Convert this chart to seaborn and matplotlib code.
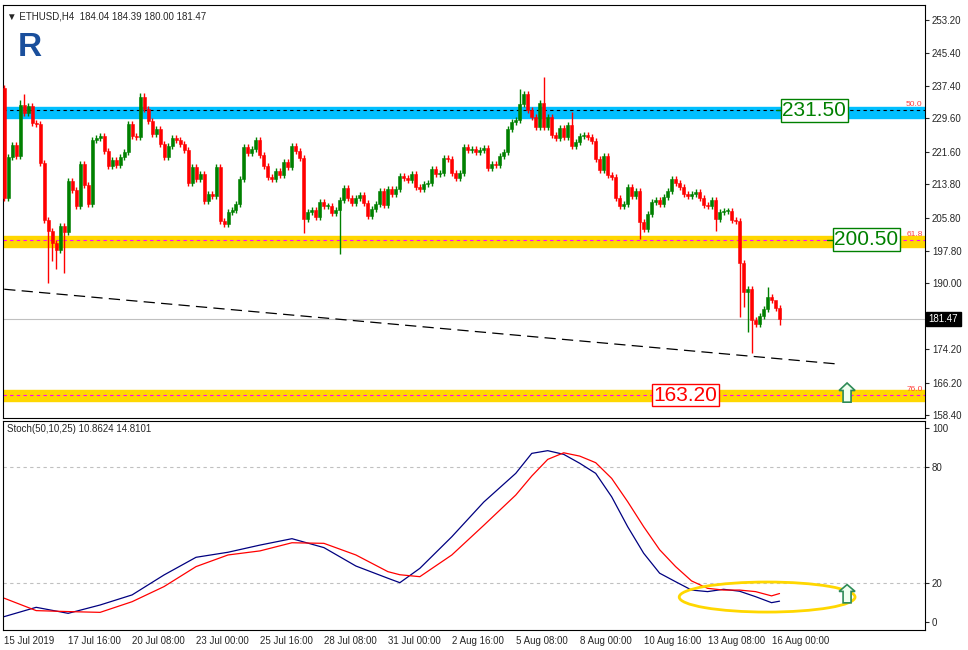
import numpy as np
import pandas as pd
import matplotlib
matplotlib.use("Agg")
import matplotlib.pyplot as plt
import seaborn as sns
from matplotlib.patches import Ellipse, Polygon
import matplotlib.transforms as mtransforms

# ---------------------------
# data (H4 candles, ETHUSD)
# ---------------------------
first_open = 236.9
closes = [
    210.5, 220.3, 223.2, 220.6, 232.8, 230.9, 232.6, 228.5, 228.2, 218.9,
    205.2, 202.6, 199.7, 198.0, 203.8, 202.3, 214.6, 212.4, 208.6, 218.6,
    213.6, 209.0, 224.4, 224.9, 225.4, 221.8, 218.2, 219.6, 218.4, 220.3,
    221.5, 228.2, 225.4, 225.1, 234.7, 231.8, 229.0, 225.8, 227.0, 223.4,
    220.3, 223.0, 224.9, 224.4, 223.4, 222.0, 214.1, 218.0, 215.0, 216.2,
    209.8, 211.4, 211.0, 218.0, 205.0, 204.2, 207.1, 207.6, 209.0, 215.0,
    222.7, 221.3,
    222.2, 224.4, 220.8, 218.2, 215.5, 215.0, 217.0, 216.0,
    219.1, 217.9, 223.0, 221.8, 220.1, 205.4, 207.1, 207.6, 205.9, 209.5,
    208.6, 208.6, 206.9, 207.6, 210.0, 212.9, 210.5, 209.3, 210.5, 211.2,
    209.3, 206.2, 207.8, 209.0, 212.2, 208.8, 212.6, 211.4, 212.6, 215.8,
    215.3, 214.8, 216.2, 213.1, 212.6, 213.8, 214.1, 217.4, 216.2, 216.5,
    220.1, 219.8, 216.5, 215.3, 216.5, 222.7, 222.0, 222.2, 221.5, 222.0,
    222.5, 217.7,
    218.6, 218.4, 220.6, 221.5, 227.0, 228.7, 229.2, 233.0,
    235.4, 231.6, 229.9, 227.5, 233.3, 227.5, 229.9, 225.6, 224.9, 227.3,
    225.1, 228.0, 223.0, 223.9, 225.4, 225.6, 225.1, 224.2, 219.8, 217.2,
    220.6, 216.0, 215.5, 210.5, 208.6, 209.0, 213.1, 211.0, 212.2, 204.7,
    203.1, 206.6, 209.5, 210.0, 209.0, 210.7, 212.2, 215.0, 214.1, 213.1,
    211.4, 211.0, 211.4, 211.9, 210.5, 208.8, 208.6, 210.0, 205.4, 207.1,
    207.4, 207.4,
    205.2, 205.0, 194.9, 187.9, 188.6, 181.2, 180.2, 182.2, 183.9, 186.7,
    186.0, 184.04, 181.47,
]
# notable wicks (candle index -> price)
spike_highs = {0: 237.6, 4: 234.0, 5: 235.4, 34: 235.7, 35: 235.6, 129: 236.6,
               135: 239.5, 142: 231.1, 191: 189.1, 193: 184.39}
spike_lows = {11: 190.1, 12: 195.4, 13: 193.4, 15: 192.5, 75: 202.1, 84: 197.0,
              159: 200.6, 178: 202.6, 184: 181.9, 185: 184.3, 186: 178.3,
              187: 173.3, 194: 180.0}

stoch_idx = [0, 8, 16, 24, 32, 40, 48, 56, 64, 72, 80, 88, 96, 99, 104, 112, 120,
             128, 132, 136, 140, 144, 148, 152, 156, 160, 164, 168, 172, 176,
             180, 184, 188, 192, 194]
stoch_main = [2.9, 7.7, 4.6, 8.9, 14.1, 24.4, 33.5, 36.1, 39.8, 43.1, 38.5, 29.0,
              22.7, 20.4, 27.8, 44.1, 62.0, 76.8, 87.1, 88.5, 86.6, 82.0, 76.8,
              64.7, 49.3, 35.6, 25.3, 20.9, 16.6, 15.8, 17.0, 16.0, 13.2, 10.1, 10.86]
stoch_signal = [12.4, 6.0, 5.5, 5.1, 10.6, 18.4, 28.7, 34.7, 36.8, 41.0, 40.7,
                34.7, 26.1, 24.5, 23.5, 34.7, 50.0, 65.6, 75.4, 84.0, 87.4, 85.7,
                82.3, 74.2, 62.2, 49.3, 37.4, 28.7, 21.3, 17.5, 16.6, 16.6, 15.8,
                13.6, 14.81]

price_ticks = [253.20, 245.40, 237.40, 229.60, 221.60, 213.80, 205.80, 197.80,
               190.00, 182.00, 174.20, 166.20, 158.40]
date_labels = ["15 Jul 2019", "17 Jul 16:00", "20 Jul 08:00", "23 Jul 00:00",
               "25 Jul 16:00", "28 Jul 08:00", "31 Jul 00:00", "2 Aug 16:00",
               "5 Aug 08:00", "8 Aug 00:00", "10 Aug 16:00", "13 Aug 08:00",
               "16 Aug 00:00"]
levels = [231.50, 200.50, 163.20]
fib_labels = ["50.0", "61.8", "76.0"]
last_price = 181.47
trend_x = [0, 209.2]
trend_y = [188.6, 170.6]

# ---------------------------
# build candles
# ---------------------------
df = pd.DataFrame({"close": closes})
df["open"] = [first_open] + closes[:-1]
df["high"] = df[["open", "close"]].max(axis=1) + 0.7
df["low"] = df[["open", "close"]].min(axis=1) - 0.7
for k, v in spike_highs.items():
    df.loc[k, "high"] = v
for k, v in spike_lows.items():
    df.loc[k, "low"] = v
df["x"] = np.arange(len(df))
up = df["close"] >= df["open"]

sns.set_style("white")
plt.rcParams["font.family"] = ["Liberation Sans", "DejaVu Sans"]

fig = plt.figure(figsize=(9.68, 6.5), dpi=100)
ax = fig.add_axes([3 / 968, 1 - 418 / 650, 922 / 968, 413 / 650])
ax2 = fig.add_axes([3 / 968, 1 - 630 / 650, 922 / 968, 209 / 650])
xlim = (-0.3, 230.4)

# bands
ax.axhspan(229.6, 232.3, color="#00BFFF", zorder=0)
ax.axhspan(198.7, 201.4, color="#FFD700", zorder=0)
ax.axhspan(161.8, 164.4, color="#FFD700", zorder=0)
ax.axhline(231.5, color="black", ls=(0, (3, 3)), lw=0.8, zorder=1)
ax.axhline(200.5, color="#FF00FF", ls=(0, (3, 3)), lw=0.8, zorder=1)
ax.axhline(163.2, color="#FF00FF", ls=(0, (3, 3)), lw=0.8, zorder=1)
ax.axhline(last_price, color="#C0C0C0", lw=0.8, zorder=1)

# candles
for is_up, col in [(True, "#008000"), (False, "#FF0000")]:
    d = df[up == is_up]
    ax.vlines(d["x"], d["low"], d["high"], color=col, lw=1, zorder=3)
    ax.bar(d["x"], (d["close"] - d["open"]).abs().clip(lower=0.15),
           bottom=d[["open", "close"]].min(axis=1), width=0.75,
           color=col, edgecolor=col, lw=0.4, zorder=4)

# trend line
sns.lineplot(x=trend_x, y=trend_y, ax=ax, color="black", lw=0.9,
             linestyle=(0, (9, 5)), zorder=2)

# level labels
ax.plot([193, 197], [231.5, 231.5], color="#008000", lw=1, zorder=5)
ax.plot([206, 209], [200.5, 200.5], color="#008000", lw=1, zorder=5)
box_pos = [202.7, 215.7, 170.4]
box_col = ["#008000", "#008000", "#FF0000"]
for lv, bx, bc in zip(levels, box_pos, box_col):
    ax.text(bx, lv, f"{lv:.2f}", color=bc, fontsize=15, ha="center", va="center",
            zorder=6, bbox=dict(boxstyle="square,pad=0.08", fc="white", ec=bc, lw=1))
for lv, fl in zip(levels, fib_labels):
    ax.text(229.8, lv + 0.5, fl, color="#FF4040", fontsize=6, ha="right",
            va="bottom", zorder=6)

# up arrows
def up_arrow(a, xc, y0, y1, head):
    pts = [(xc - 1, y0), (xc + 1, y0), (xc + 1, y1 - head), (xc + 2, y1 - head),
           (xc, y1), (xc - 2, y1 - head), (xc - 1, y1 - head)]
    a.add_patch(Polygon(pts, closed=True, fc="#F0FFF0", ec="#2E8B57", lw=1.2, zorder=7))

up_arrow(ax, 210.9, 161.5, 166.1, 1.8)

ax.set_xlim(*xlim)
ax.set_ylim(157.7, 256.8)
ax.yaxis.tick_right()
ax.set_yticks(price_ticks)
# 182.00 sits under the current price box, as on the terminal
ax.set_yticklabels(["" if t == 182.00 else f"{t:.2f}" for t in price_ticks], fontsize=7)
ax.tick_params(axis="y", direction="out", length=3, right=True, pad=2)
ax.set_xticks([])
for s in ax.spines.values():
    s.set_color("black")
    s.set_linewidth(0.8)

trans = mtransforms.blended_transform_factory(ax.transAxes, ax.transData)
ax.text(1.004, last_price, f"{last_price:.2f}", transform=trans, color="white",
        fontsize=7, va="center", ha="left", zorder=8,
        bbox=dict(boxstyle="square,pad=0.25", fc="black", ec="black"))

ax.text(0.004, 0.985, "\u25BC ETHUSD,H4  184.04 184.39 180.00 181.47",
        transform=ax.transAxes, fontsize=7, va="top", ha="left")
ax.text(0.016, 0.935, "R", transform=ax.transAxes, fontsize=24, weight="bold",
        color="#1A4F9C", va="top", ha="left")

# ---------------------------
# stochastic panel
# ---------------------------
ax2.axhline(80, color="#C0C0C0", ls=(0, (3, 3)), lw=0.8)
ax2.axhline(20, color="#C0C0C0", ls=(0, (3, 3)), lw=0.8)
sns.lineplot(x=stoch_idx, y=stoch_main, ax=ax2, color="#000080", lw=0.9)
sns.lineplot(x=stoch_idx, y=stoch_signal, ax=ax2, color="#FF0000", lw=0.9)
ax2.add_patch(Ellipse((190.9, 13.0), 44, 15.5, fill=False, ec="#FFD700", lw=2, zorder=5))
up_arrow(ax2, 210.9, 10.0, 19.4, 3.5)

ax2.set_xlim(*xlim)
ax2.set_ylim(-4.0, 103.8)
ax2.yaxis.tick_right()
ax2.set_yticks([100, 80, 20, 0])
ax2.set_yticklabels(["100", "80", "20", "0"], fontsize=7)
ax2.tick_params(axis="y", direction="out", length=3, pad=2)
ax2.set_xticks(np.arange(len(date_labels)) * 16)
ax2.set_xticklabels(date_labels, fontsize=7, ha="left")
ax2.tick_params(axis="x", direction="out", length=3, pad=1)
ax2.set_xlabel("")
ax2.set_ylabel("")
ax.set_ylabel("")
for s in ax2.spines.values():
    s.set_color("black")
    s.set_linewidth(0.8)
ax2.text(0.004, 0.985, "Stoch(50,10,25) 10.8624 14.8101", transform=ax2.transAxes,
         fontsize=7, va="top", ha="left")

fig.savefig("out.png", dpi=100)
